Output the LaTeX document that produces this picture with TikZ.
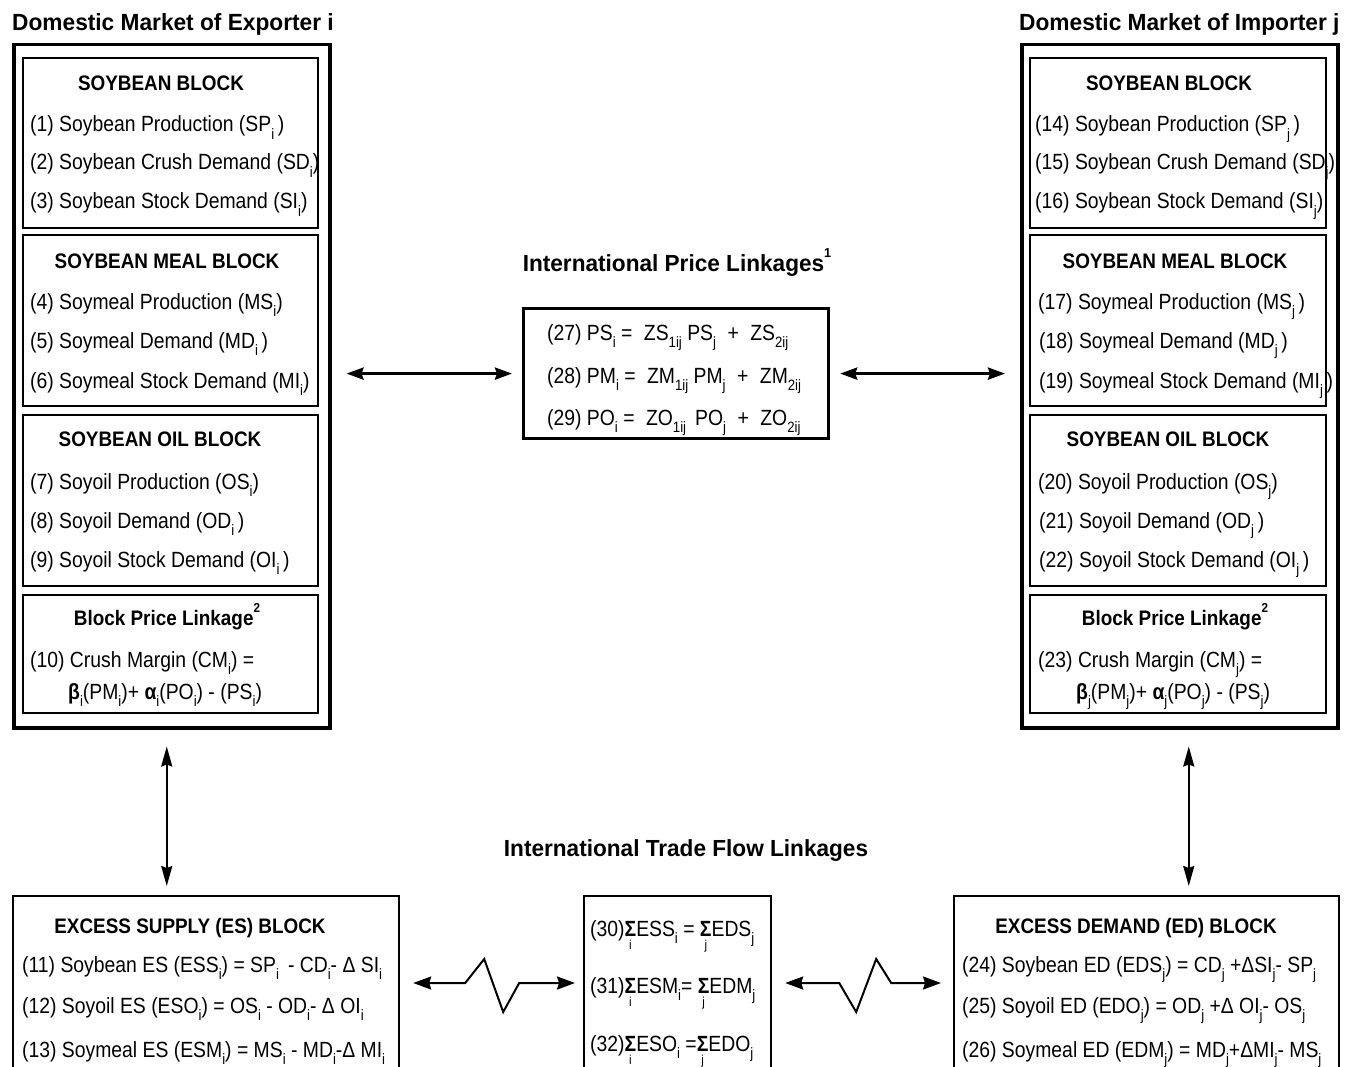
\documentclass[tikz,border=0pt]{standalone}
\usepackage{fontspec}
\usetikzlibrary{arrows.meta,calc}
\newfontfamily\bodyf{Liberation Sans}[FakeStretch=0.88]
\newfontfamily\headf{Liberation Sans}[FakeStretch=0.9]
\newfontfamily\titf{Liberation Sans}[FakeStretch=0.97]
\newcommand\sbx[1]{\raisebox{-0.34em}{\fontsize{15}{15}\selectfont #1}}
\newcommand\spx[1]{\raisebox{0.6em}{\fontsize{13}{13}\selectfont #1}}
\newcommand\sgm[1]{\setbox0\hbox{\textbf{Σ}}\copy0\llap{\hbox to\wd0{\hss\raisebox{-0.62em}{\fontsize{13}{13}\selectfont #1}\hss}}}
\tikzset{
  outerbox/.style={draw, line width=3.5pt, anchor=north west, inner sep=0pt},
  innerbox/.style={draw, line width=1.6pt, anchor=north west, inner sep=0pt},
  pricebox/.style={draw, line width=3.2pt, anchor=north west, inner sep=0pt},
  bottombox/.style={draw, line width=2.2pt, anchor=north west, inner sep=0pt},
  bl/.style={anchor=base west, inner sep=0pt, font=\bodyf\fontsize{22}{24}\selectfont},
  hd/.style={anchor=base, inner sep=0pt, font=\headf\bfseries\fontsize{21}{24}\selectfont},
  ttl/.style={anchor=base west, inner sep=0pt, font=\titf\bfseries\fontsize{23.4}{26}\selectfont},
  mttl/.style={anchor=base, inner sep=0pt, font=\titf\bfseries\fontsize{23.3}{26}\selectfont},
  harr/.style={line width=3pt, {Stealth[length=17pt,width=12pt,inset=2pt]}-{Stealth[length=17pt,width=12pt,inset=2pt]}},
  varr/.style={line width=2pt, {Stealth[length=20pt,width=11pt,inset=2pt]}-{Stealth[length=20pt,width=11pt,inset=2pt]}},
  zarr/.style={line width=2pt, line join=miter, {Stealth[length=18pt,width=13pt,inset=2pt]}-{Stealth[length=18pt,width=13pt,inset=2pt]}},
}
\begin{document}
\begin{tikzpicture}[x=1pt,y=-1pt]
\clip (0,0) rectangle (1359,1067);
\fill[white] (0,0) rectangle (1359,1067);

% titles
\node[ttl] (tl) at (12,31) {Domestic Market of Exporter i};
\node[ttl] (tr) at (1019,31) {Domestic Market of Importer j};
\node[mttl] (tp) at (677,271) {International Price Linkages\spx{1}};
\node[mttl] (tf) at (686,856) {International Trade Flow Linkages};

% left domestic market
\node[outerbox, minimum width=316pt, minimum height=683pt] (LO) at (12,43) {};
\node[innerbox, minimum width=295pt, minimum height=170pt] (LSB) at (22,57) {};
\node[innerbox, minimum width=295pt, minimum height=171pt] (LMB) at (22,234) {};
\node[innerbox, minimum width=295pt, minimum height=171pt] (LOB) at (22,414) {};
\node[innerbox, minimum width=295pt, minimum height=118pt] (LPB) at (22,594) {};

\node[hd] (lh1) at (161,91) {SOYBEAN BLOCK};
\node[bl] (l1) at (30,132) {(1) Soybean Production (SP\sbx{i}\,)};
\node[bl] (l2) at (30,170) {(2) Soybean Crush Demand (SD\sbx{i})};
\node[bl] (l3) at (30,209) {(3) Soybean Stock Demand (SI\sbx{i})};
\node[hd] (lh2) at (167,269) {SOYBEAN MEAL BLOCK};
\node[bl] (l4) at (30,309) {(4) Soymeal Production (MS\sbx{i})};
\node[bl] (l5) at (30,348) {(5) Soymeal Demand (MD\sbx{i}\,)};
\node[bl] (l6) at (30,388) {(6) Soymeal Stock Demand (MI\sbx{i})};
\node[hd] (lh3) at (160,446) {SOYBEAN OIL BLOCK};
\node[bl] (l7) at (30,489) {(7) Soyoil Production (OS\sbx{i})};
\node[bl] (l8) at (30,528) {(8) Soyoil Demand (OD\sbx{i}\,)};
\node[bl] (l9) at (30,567) {(9) Soyoil Stock Demand (OI\sbx{i}\,)};
\node[hd] (lh4) at (167,625) {Block Price Linkage\spx{2}};
\node[bl] (l10) at (30,667) {(10) Crush Margin (CM\sbx{i}) =};
\node[bl] (l10b) at (68,699) {\textbf{β}\sbx{i}(PM\sbx{i})+ \textbf{α}\sbx{i}(PO\sbx{i}) - (PS\sbx{i})};

% right domestic market
\node[outerbox, minimum width=316pt, minimum height=683pt] (RO) at (1020,43) {};
\node[innerbox, minimum width=296pt, minimum height=170pt] (RSB) at (1029,57) {};
\node[innerbox, minimum width=296pt, minimum height=171pt] (RMB) at (1029,234) {};
\node[innerbox, minimum width=296pt, minimum height=171pt] (ROB) at (1029,414) {};
\node[innerbox, minimum width=296pt, minimum height=118pt] (RPB) at (1029,594) {};

\node[hd] (rh1) at (1169,91) {SOYBEAN BLOCK};
\node[bl] (r1) at (1035,132) {(14) Soybean Production (SP\sbx{j}\,)};
\node[bl] (r2) at (1035,170) {(15) Soybean Crush Demand (SD\sbx{j})};
\node[bl] (r3) at (1035,209) {(16) Soybean Stock Demand (SI\sbx{j})};
\node[hd] (rh2) at (1175,269) {SOYBEAN MEAL BLOCK};
\node[bl] (r4) at (1038,309) {(17) Soymeal Production (MS\sbx{j}\,)};
\node[bl] (r5) at (1039,348) {(18) Soymeal Demand (MD\sbx{j}\,)};
\node[bl] (r6) at (1039,388) {(19) Soymeal Stock Demand (MI\sbx{j}\,)};
\node[hd] (rh3) at (1168,446) {SOYBEAN OIL BLOCK};
\node[bl] (r7) at (1038,489) {(20) Soyoil Production (OS\sbx{j})};
\node[bl] (r8) at (1039,528) {(21) Soyoil Demand (OD\sbx{j}\,)};
\node[bl] (r9) at (1039,567) {(22) Soyoil Stock Demand (OI\sbx{j}\,)};
\node[hd] (rh4) at (1175,625) {Block Price Linkage\spx{2}};
\node[bl] (r10) at (1038,667) {(23) Crush Margin (CM\sbx{j}) =};
\node[bl] (r10b) at (1076,699) {\textbf{β}\sbx{j}(PM\sbx{j})+ \textbf{α}\sbx{j}(PO\sbx{j}) - (PS\sbx{j})};

% international price linkages
\node[pricebox, minimum width=305pt, minimum height=130pt] (P) at (522,307) {};
\node[bl] (p1) at (547,340) {(27) PS\sbx{i} =\; ZS\sbx{1ij} PS\sbx{j}\; +\; ZS\sbx{2ij}};
\node[bl] (p2) at (547,383) {(28) PM\sbx{i} =\; ZM\sbx{1ij} PM\sbx{j}\; +\; ZM\sbx{2ij}};
\node[bl] (p3) at (547,425) {(29) PO\sbx{i} =\; ZO\sbx{1ij}\, PO\sbx{j}\; +\; ZO\sbx{2ij}};

% bottom boxes
\node[bottombox, minimum width=386pt, minimum height=200pt] (LES) at (12,895) {};
\node[bottombox, minimum width=187pt, minimum height=200pt] (MB) at (583,895) {};
\node[bottombox, minimum width=385pt, minimum height=200pt] (RES) at (953,895) {};

\node[hd] (eh1) at (190,933) {EXCESS SUPPLY (ES) BLOCK};
\node[bl] (e1) at (22,972) {(11) Soybean ES (ESS\sbx{i}) = SP\sbx{i}\, - CD\sbx{i}- Δ SI\sbx{i}};
\node[bl] (e2) at (22,1013) {(12) Soyoil ES (ESO\sbx{i}) = OS\sbx{i} - OD\sbx{i}- Δ OI\sbx{i}};
\node[bl] (e3) at (22,1057) {(13) Soymeal ES (ESM\sbx{i}) = MS\sbx{i} - MD\sbx{i}-Δ MI\sbx{i}};

\node[bl] (m1) at (590,936) {(30)\sgm{i}ESS\sbx{i} = \sgm{j}EDS\sbx{j}};
\node[bl] (m2) at (590,993) {(31)\sgm{i}ESM\sbx{i}= \sgm{j}EDM\sbx{j}};
\node[bl] (m3) at (590,1051) {(32)\sgm{i}ESO\sbx{i} =\sgm{j}EDO\sbx{j}};

\node[hd] (dh1) at (1136,933) {EXCESS DEMAND (ED) BLOCK};
\node[bl] (d1) at (962,972) {(24) Soybean ED (EDS\sbx{j}) = CD\sbx{j} +ΔSI\sbx{j}- SP\sbx{j}};
\node[bl] (d2) at (962,1013) {(25) Soyoil ED (EDO\sbx{j}) = OD\sbx{j} +Δ OI\sbx{j}- OS\sbx{j}};
\node[bl] (d3) at (962,1057) {(26) Soymeal ED (EDM\sbx{j}) = MD\sbx{j}+ΔMI\sbx{j}- MS\sbx{j}};

% connectors
\draw[harr] ($(LO.east |- P.west)+(15,0)$) -- ($(P.west)+(-10,0)$);
\draw[harr] ($(P.east)+(10,0)$) -- ($(RO.west |- P.east)+(-15,0)$);
\draw[varr] ($(LO.south)+(-5,17)$) -- ($(LO.south |- LES.north)+(-5,-9)$);
\draw[varr] ($(RO.south)+(9,17)$) -- ($(RO.south |- RES.north)+(9,-9)$);
\draw[zarr] ($(LES.north east)+(13,88)$) -- ++(52,0) -- ++(19,-24) -- ++(19,53) -- ++(16,-29) -- ($(MB.north west)+(-8,88)$);
\draw[zarr] ($(MB.north east)+(13,88)$) -- ++(54,0) -- ++(17,29) -- ++(20,-53) -- ++(15,24) -- ($(RES.north west)+(-12,88)$);
\end{tikzpicture}
\end{document}
